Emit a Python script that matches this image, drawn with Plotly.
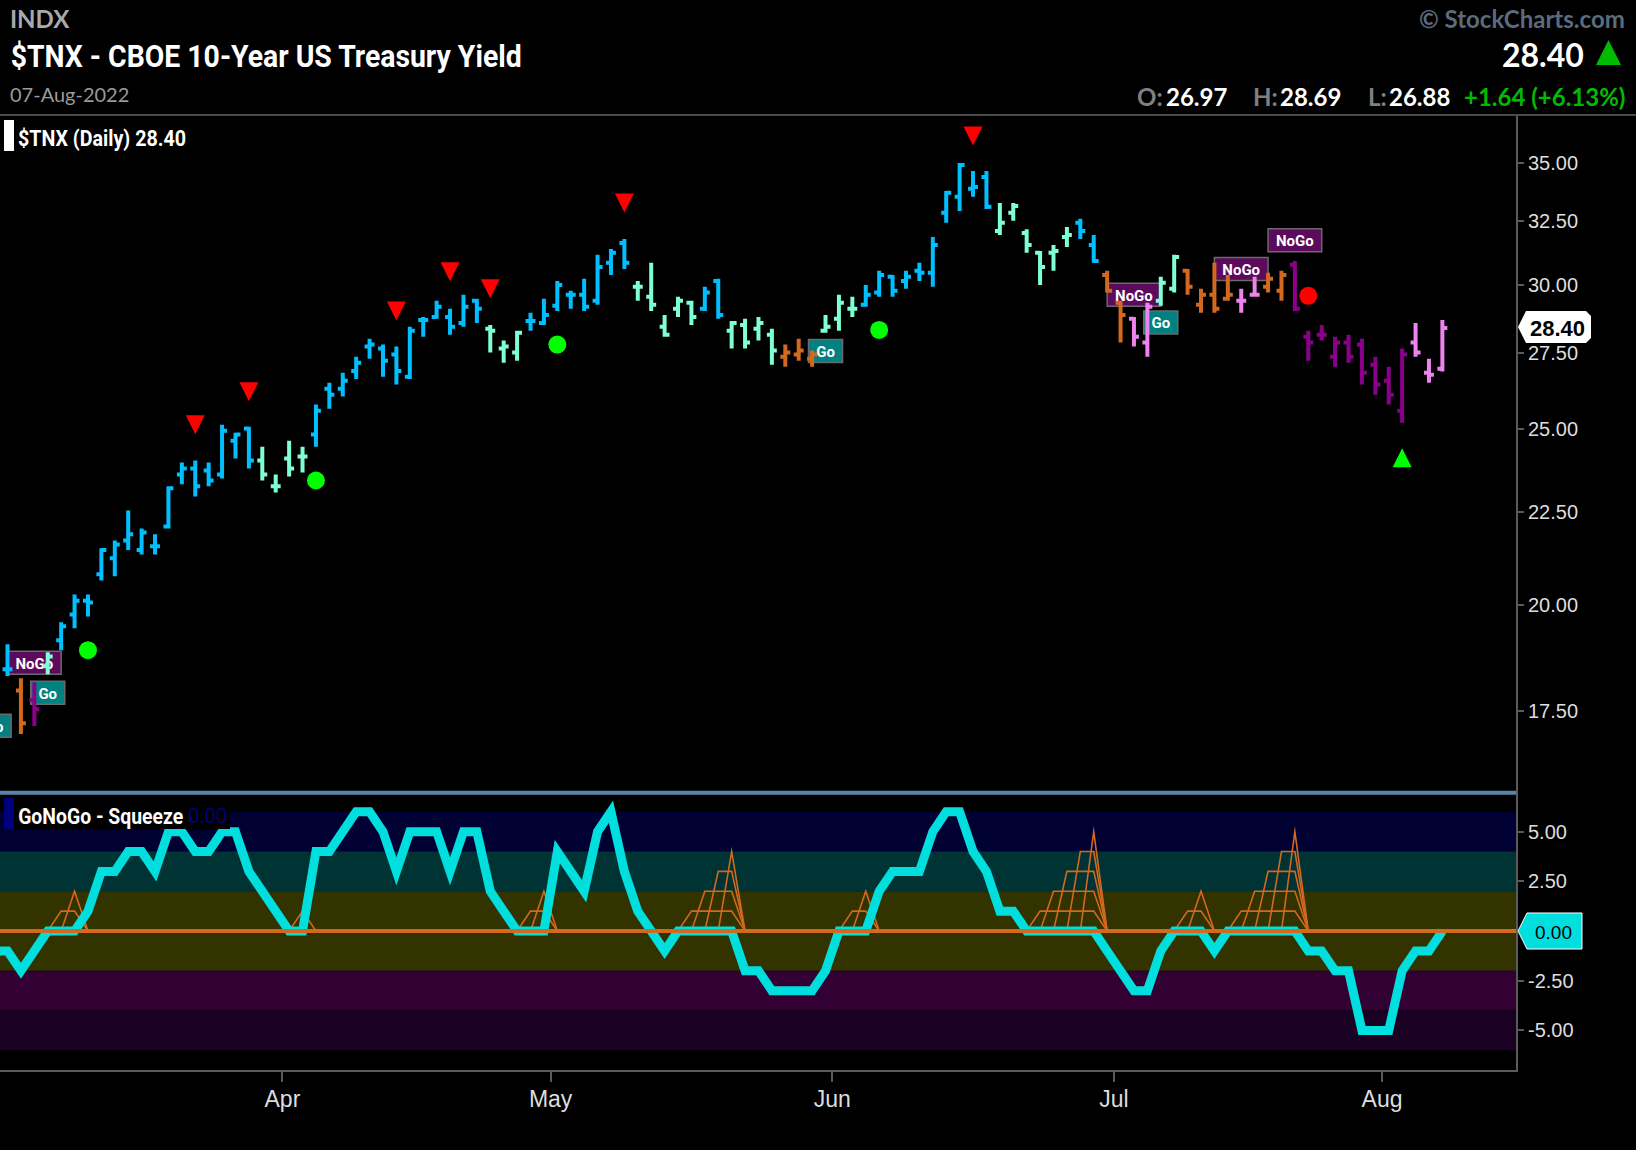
import json
import plotly.graph_objects as go
from plotly.subplots import make_subplots

# daily bars (index 0 = first bar on the left)
highs = [19.04,18.24,18.15,18.85,19.58,20.28,20.28,21.50,21.71,22.55,
         22.04,21.88,23.25,23.96,24.02,23.96,25.13,24.88,25.07,24.44,
         23.60,24.63,24.44,25.78,26.50,26.84,27.39,28.02,27.81,27.74,
         28.44,28.80,29.39,29.10,29.62,29.47,28.51,27.95,28.30,28.95,
         29.47,30.14,29.77,30.22,31.15,31.38,31.78,30.14,30.84,28.87,
         29.54,29.39,29.92,30.22,28.65,28.73,28.80,28.37,27.81,28.02,
         27.60,28.87,29.62,29.54,29.99,30.53,30.37,30.53,30.84,31.86,
         33.77,34.99,34.63,34.63,33.26,33.26,32.18,31.30,31.54,32.27,
         32.60,31.94,30.53,29.39,28.80,29.32,30.30,31.15,30.60,29.84,
         30.84,30.37,29.84,30.30,30.45,30.53,30.91,28.30,28.51,28.09,
         28.16,28.02,27.39,27.04,27.67,28.58,27.32,28.69]
lows = [18.29,17.00,17.17,18.33,18.90,19.43,19.72,20.64,20.75,21.45,
        21.33,21.33,22.04,23.31,22.95,23.25,23.48,24.08,23.78,23.42,
        23.07,23.54,23.66,24.44,25.64,26.04,26.63,27.32,26.70,26.44,
        26.63,28.09,28.73,28.16,28.44,28.58,27.53,27.18,27.25,28.30,
        28.51,29.02,29.10,29.02,29.25,30.37,30.60,29.39,29.02,28.09,
        28.80,28.51,29.02,28.73,27.67,27.67,27.95,27.11,27.04,27.25,
        27.04,28.23,28.30,28.80,29.17,29.54,29.54,29.84,30.14,29.92,
        32.44,32.93,33.52,33.01,31.94,32.52,31.23,29.99,30.53,31.46,
        31.78,30.84,29.70,27.88,27.74,27.39,29.21,29.70,29.62,28.95,
        28.95,29.39,28.95,29.54,29.70,29.39,29.02,27.25,27.95,27.04,
        27.18,26.44,26.10,25.78,25.19,27.39,26.50,26.88]
opens = [18.45,17.96,17.74,18.52,19.14,19.77,20.12,20.80,21.23,21.71,
         21.45,21.55,22.10,23.60,23.78,23.72,23.60,24.63,25.01,24.02,
         23.25,24.08,24.14,24.82,26.30,26.30,26.90,27.74,27.67,27.46,
         26.70,28.69,28.80,28.80,28.58,29.39,28.37,27.67,27.53,28.65,
         28.58,29.21,29.62,29.62,29.39,30.84,31.62,29.92,29.54,28.44,
         29.10,29.32,29.10,30.14,28.30,28.51,28.37,28.16,27.39,27.46,
         27.32,28.30,28.73,29.10,29.25,29.70,30.30,30.14,30.53,30.45,
         32.85,33.52,33.86,34.37,32.10,32.85,32.02,31.23,31.23,31.86,
         32.44,31.54,30.37,29.32,28.73,27.88,29.39,29.84,30.53,29.25,
         29.62,29.47,29.39,29.62,29.92,29.77,30.76,28.09,28.16,27.39,
         27.88,27.81,27.11,26.57,25.58,27.88,26.84,26.97]
closes = [18.45,17.23,17.54,18.75,19.48,20.12,20.07,21.45,21.60,21.88,
          21.93,21.55,23.19,23.78,23.25,23.42,24.94,24.82,24.02,23.60,
          23.25,23.78,24.14,25.58,26.10,26.57,27.18,27.81,27.25,26.90,
          28.30,28.69,29.17,28.44,29.17,29.10,28.30,27.74,28.23,28.65,
          28.87,29.99,29.62,29.17,30.68,31.23,30.84,29.92,29.25,28.16,
          29.39,28.80,29.70,28.87,28.58,27.88,28.58,27.60,27.53,27.60,
          27.46,28.44,29.32,29.10,29.62,30.37,29.77,30.30,30.45,31.54,
          33.69,34.90,33.94,33.10,32.44,33.13,31.54,30.68,31.30,31.94,
          32.10,30.91,29.77,28.87,28.09,29.17,30.07,31.07,29.92,29.62,
          29.10,29.62,29.39,29.62,30.22,30.37,29.10,27.88,28.16,27.88,
          27.39,26.84,26.44,26.10,27.46,27.53,26.77,28.40]
# GoNoGo colour of each bar: B strong go, A weak go, O neutral, P weak nogo, M strong nogo
trends = ("BOMA" "BBBBBBBBBBBBBBB" "AAAA" "BBBBBBBBBBBBB" "AAA" "BBBBBBBB" "AAAAA"
          "BB" "AAAA" "OOO" "AAA" "BBBBBBBBBB" "AAAAAA" "BB" "OO" "PP" "AA" "OOOO"
          "PP" "OO" "MMMMMMMMM" "PPP")

# oscillator, first value sits one bar left of the chart edge
osc_values = [-1,
              -1,-2,-1,0,0,0,1,3,3,4,4,3,5,5,4,4,5,5,3,2,
              1,0,0,4,4,5,6,6,5,3,5,5,5,3,5,5,2,1,0,0,
              0,4,3,2,5,6,3,1,0,-1,0,0,0,0,0,-2,-2,-3,-3,-3,
              -3,-2,0,0,0,2,3,3,3,5,6,6,4,3,1,1,0,0,0,0,
              0,0,-1,-2,-3,-3,-1,0,0,0,-1,0,0,0,0,0,0,-1,-1,-2,
              -2,-5,-5,-5,-2,-1,-1,0]
# squeeze count at the bars where a squeeze is on
squeeze_bars = [4,5,22,39,40,51,52,53,54,63,64,77,78,79,80,81,88,89,92,93,94,95,96]
squeeze_levels = [1,2,1,1,2,1,2,3,4,1,2,1,2,3,4,5,1,2,1,2,3,4,5]

# signals on the price panel
down_arrow_bars = [14, 18, 29, 33, 36, 46, 72]
down_arrow_prices = [25.13, 26.20, 29.02, 30.49, 29.84, 33.26, 36.20]
up_arrow_bars = [104]
up_arrow_prices = [24.10]
go_dot_bars = [6, 23, 41, 65]
go_dot_prices = [18.90, 23.42, 27.81, 28.33]
nogo_dot_bars = [97]
nogo_dot_prices = [29.58]
label_texts = ["NoGo", "Go", "Go", "Go", "NoGo", "Go", "NoGo", "NoGo"]
label_bars = [2, 3, -1, 61, 84, 86, 92, 96]
label_prices = [18.60, 17.91, 17.18, 27.59, 29.62, 28.60, 30.60, 31.73]

price_ticks = [17.5, 20, 22.5, 25, 27.5, 30, 32.5, 35]
osc_ticks = [5, 2.5, -2.5, -5]
month_ticks = [20.5, 40.5, 61.5, 82.5, 102.5]
month_labels = ["Apr", "May", "Jun", "Jul", "Aug"]
band_edges = [6, 4, 2, -2, -4, -6]
band_colors = ["#000033", "#003333", "#333300", "#330033", "#1a0022"]

trend_colors = {"B": "#00bfff", "A": "#7fffd4", "O": "#d2691e", "P": "#ee82ee", "M": "#8b008b"}
label_fill = {"NoGo": "#5c0a5c", "Go": "#008080"}
label_half_bars = {"NoGo": 2.0, "Go": 1.27}
CYAN = "#00dede"
ORANGE = "#d2691e"
AXIS = "#5a5a5a"
TICK = "#dddddd"
SANS = "Liberation Sans"

# plot area in page pixels
LEFT, RIGHT, TOP, BOTTOM = 0, 1516, 115, 1070
DIVIDER = 792.7

# the reference headings use a condensed face that is not installed, squeeze Roboto to width
condensed = {"$TNX - CBOE 10-Year US Treasury Yield": 511,
             "$TNX (Daily) 28.40": 168,
             "GoNoGo - Squeeze": 165}


def px(x):
    return (x - LEFT) / (RIGHT - LEFT)


def py(y):
    return (BOTTOM - y) / (BOTTOM - TOP)


def page_path(points, close=True):
    cmds = []
    for i, (x, y) in enumerate(points):
        cmds.append(("M" if i == 0 else "L") + f"{px(x):.5f},{py(y):.5f}")
    return " ".join(cmds) + (" Z" if close else "")


lower_share = (BOTTOM - DIVIDER) / (BOTTOM - TOP)
fig = make_subplots(rows=2, cols=1, shared_xaxes=True, vertical_spacing=0,
                    row_heights=[1 - lower_share, lower_share])

# one ohlc trace per colour, they share tick size across the axis
bar_index = list(range(len(closes)))
for code, color in trend_colors.items():
    picks = [i for i in bar_index if trends[i] == code]
    fig.add_trace(go.Ohlc(
        x=picks,
        open=[opens[i] for i in picks],
        high=[highs[i] for i in picks],
        low=[lows[i] for i in picks],
        close=[closes[i] for i in picks],
        increasing_line=dict(color=color, width=4),
        decreasing_line=dict(color=color, width=4),
        tickwidth=0.37,
        hoverinfo="skip",
    ), row=1, col=1)

for bars, prices, color in [(go_dot_bars, go_dot_prices, "#00ff00"),
                            (nogo_dot_bars, nogo_dot_prices, "#ff0000")]:
    fig.add_trace(go.Scatter(x=bars, y=prices, mode="markers", hoverinfo="skip",
                             marker=dict(color=color, size=18, symbol="circle")),
                  row=1, col=1)

# squeeze grid: one line per count level, flat on zero when the squeeze is off
squeeze_map = dict(zip(squeeze_bars, squeeze_levels))
for level in range(1, max(squeeze_levels) + 1):
    level_y = [level if squeeze_map.get(i, 0) >= level else 0 for i in bar_index]
    fig.add_trace(go.Scatter(x=bar_index, y=level_y, mode="lines", hoverinfo="skip",
                             line=dict(color=ORANGE, width=1.6)), row=2, col=1)

osc_x = [-1] + bar_index
fig.add_trace(go.Scatter(x=osc_x, y=osc_values, mode="lines", hoverinfo="skip",
                         line=dict(color=CYAN, width=9)), row=2, col=1)

# oscillator background bands
for i, color in enumerate(band_colors):
    fig.add_shape(type="rect", xref="paper", yref="y2", x0=0, x1=1,
                  y0=band_edges[i + 1], y1=band_edges[i],
                  fillcolor=color, line_width=0, layer="below")

# Go / NoGo flags sit under the bars, so shapes with their own label (about 23px tall)
for text, bar, price in zip(label_texts, label_bars, label_prices):
    half = label_half_bars[text]
    fig.add_shape(type="rect", xref="x", yref="y",
                  x0=bar - half, x1=bar + half, y0=price * 0.98556, y1=price * 1.01464,
                  fillcolor=label_fill[text], line=dict(color="#6a6a6a", width=1.5),
                  layer="below",
                  label=dict(text=f"<b>{text}</b>", textposition="middle center",
                             font=dict(family="Roboto", size=15, color="white")))

# pixel sized triangles anchored on the price scale
for bar, price in zip(down_arrow_bars, down_arrow_prices):
    fig.add_shape(type="path", xref="x", yref="y", xsizemode="pixel", ysizemode="pixel",
                  xanchor=bar, yanchor=price, path="M-9.5,9.5 L9.5,9.5 L0,-9.5 Z",
                  fillcolor="#ff0000", line_width=0)
for bar, price in zip(up_arrow_bars, up_arrow_prices):
    fig.add_shape(type="path", xref="x", yref="y", xsizemode="pixel", ysizemode="pixel",
                  xanchor=bar, yanchor=price, path="M-9.5,-9.5 L9.5,-9.5 L0,9.5 Z",
                  fillcolor="#00ff00", line_width=0)

# zero line over the oscillator
fig.add_shape(type="line", xref="paper", yref="y2", x0=0, x1=1, y0=0, y1=0,
              line=dict(color=ORANGE, width=4))
# panel divider and header rule
fig.add_shape(type="line", xref="paper", yref="paper", x0=0, x1=1, y0=py(DIVIDER), y1=py(DIVIDER),
              line=dict(color="#5b84ab", width=4))
fig.add_shape(type="line", xref="paper", yref="paper", x0=0, x1=px(1636), y0=1, y1=1,
              line=dict(color="#4a4a4a", width=2))

# legend chips
fig.add_shape(type="rect", xref="paper", yref="paper", x0=px(4), x1=px(14), y0=py(151), y1=py(120),
              fillcolor="white", line_width=0)
fig.add_shape(type="rect", xref="paper", yref="paper", x0=px(14), x1=px(230), y0=py(829), y1=py(798),
              fillcolor="black", line_width=0)
fig.add_shape(type="rect", xref="paper", yref="paper", x0=px(4), x1=px(14), y0=py(829), y1=py(798),
              fillcolor="#00007f", line_width=0)

# price tags on the right axis
fig.add_shape(type="path", xref="paper", yref="paper", fillcolor="white", line_width=0,
              path=page_path([(1518, 327), (1526, 311), (1586, 311), (1591, 316), (1591, 338),
                              (1586, 343), (1526, 343)]))
fig.add_shape(type="path", xref="paper", yref="paper", fillcolor=CYAN,
              line=dict(color="white", width=1),
              path=page_path([(1518, 931), (1527, 913), (1582, 913), (1582, 949), (1527, 949)]))
# header triangle
fig.add_shape(type="path", xref="paper", yref="paper", fillcolor="#00bb00", line_width=0,
              path=page_path([(1596, 65), (1621, 65), (1608.5, 40)]))


def note(x, y, text, size, color, family="Lato", anchor="left", weight=None):
    fig.add_annotation(xref="paper", yref="paper", x=px(x), y=py(y), text=text, showarrow=False,
                       xanchor=anchor, yanchor="middle", borderpad=0,
                       font=dict(family=family, size=size, color=color, weight=weight))


note(9, 19, "<b>INDX</b>", 24, "#a9a9a9")
note(265.5, 56, "$TNX - CBOE 10-Year US Treasury Yield", 32, "white", "Roboto", "center", 700)
note(9, 94, "07-Aug-2022", 20, "#9a9a9a")
note(102, 138, "$TNX (Daily) 28.40", 22, "white", "Roboto", "center", 700)
note(100.5, 816, "GoNoGo - Squeeze", 22, "white", "Roboto", "center", 700)
note(207.5, 816, "0.00", 20, "#00007f", "Roboto", "center")

note(1626, 19, "<b>© StockCharts.com</b>", 24, "#5c6b7c", anchor="right")
note(1585, 54, "<b>28.40</b>", 32, "white", anchor="right")
note(1136, 96, "<b>O:</b>", 24, "#808080")
note(1228, 96, "<b>26.97</b>", 24, "white", anchor="right")
note(1252, 96, "<b>H:</b>", 24, "#808080")
note(1342, 96, "<b>28.69</b>", 24, "white", anchor="right")
note(1367, 96, "<b>L:</b>", 24, "#808080")
note(1451, 96, "<b>26.88</b>", 24, "white", anchor="right")
note(1626, 96, "<b>+1.64 (+6.13%)</b>", 24, "#00bb00", anchor="right")

note(1558, 328, "<b>28.40</b>", 22, "black", SANS, anchor="center")
note(1553, 932, "0.00", 19, "black", SANS, anchor="center")

fig.update_xaxes(type="linear", range=[-0.56, 112.49], showgrid=False, zeroline=False,
                 rangeslider_visible=False, showline=False, ticks="")
fig.update_xaxes(tickvals=month_ticks, ticktext=month_labels, ticks="outside", ticklen=10,
                 tickwidth=2, tickcolor=AXIS, showline=True, linecolor=AXIS, linewidth=2,
                 ticklabelstandoff=-3,
                 tickfont=dict(family=SANS, size=23, color=TICK), row=2, col=1)
fig.update_yaxes(side="right", showgrid=False, zeroline=False, showline=True, linecolor=AXIS,
                 linewidth=2, ticks="outside", ticklen=6, tickwidth=2, tickcolor=AXIS,
                 tickfont=dict(family=SANS, size=20, color=TICK))
fig.update_yaxes(type="log", range=[1.1982, 1.57024], tickvals=price_ticks,
                 ticktext=[f"{v:.2f}" for v in price_ticks], row=1, col=1)
fig.update_yaxes(range=[-6.99, 6.96], tickvals=osc_ticks,
                 ticktext=[f"{v:.2f}" for v in osc_ticks], row=2, col=1)

fig.update_layout(width=1636, height=1150, showlegend=False, paper_bgcolor="black",
                  plot_bgcolor="black", margin=dict(l=LEFT, r=1636 - RIGHT, t=TOP, b=1150 - BOTTOM),
                  hovermode=False)

page_script = """
var s = document.createElement('style');
s.textContent = 'body{margin:0;background:#000} .js-line{stroke-miterlimit:8 !important}';
document.head.appendChild(s);
var widths = %s;
document.querySelectorAll('text.annotation-text').forEach(function (t) {
    var w = widths[t.textContent];
    if (w) {
        t.setAttribute('textLength', w);
        t.setAttribute('lengthAdjust', 'spacingAndGlyphs');
    }
});
""" % json.dumps(condensed)
fig.write_html("out.html", post_script=page_script, config=dict(displayModeBar=False))
